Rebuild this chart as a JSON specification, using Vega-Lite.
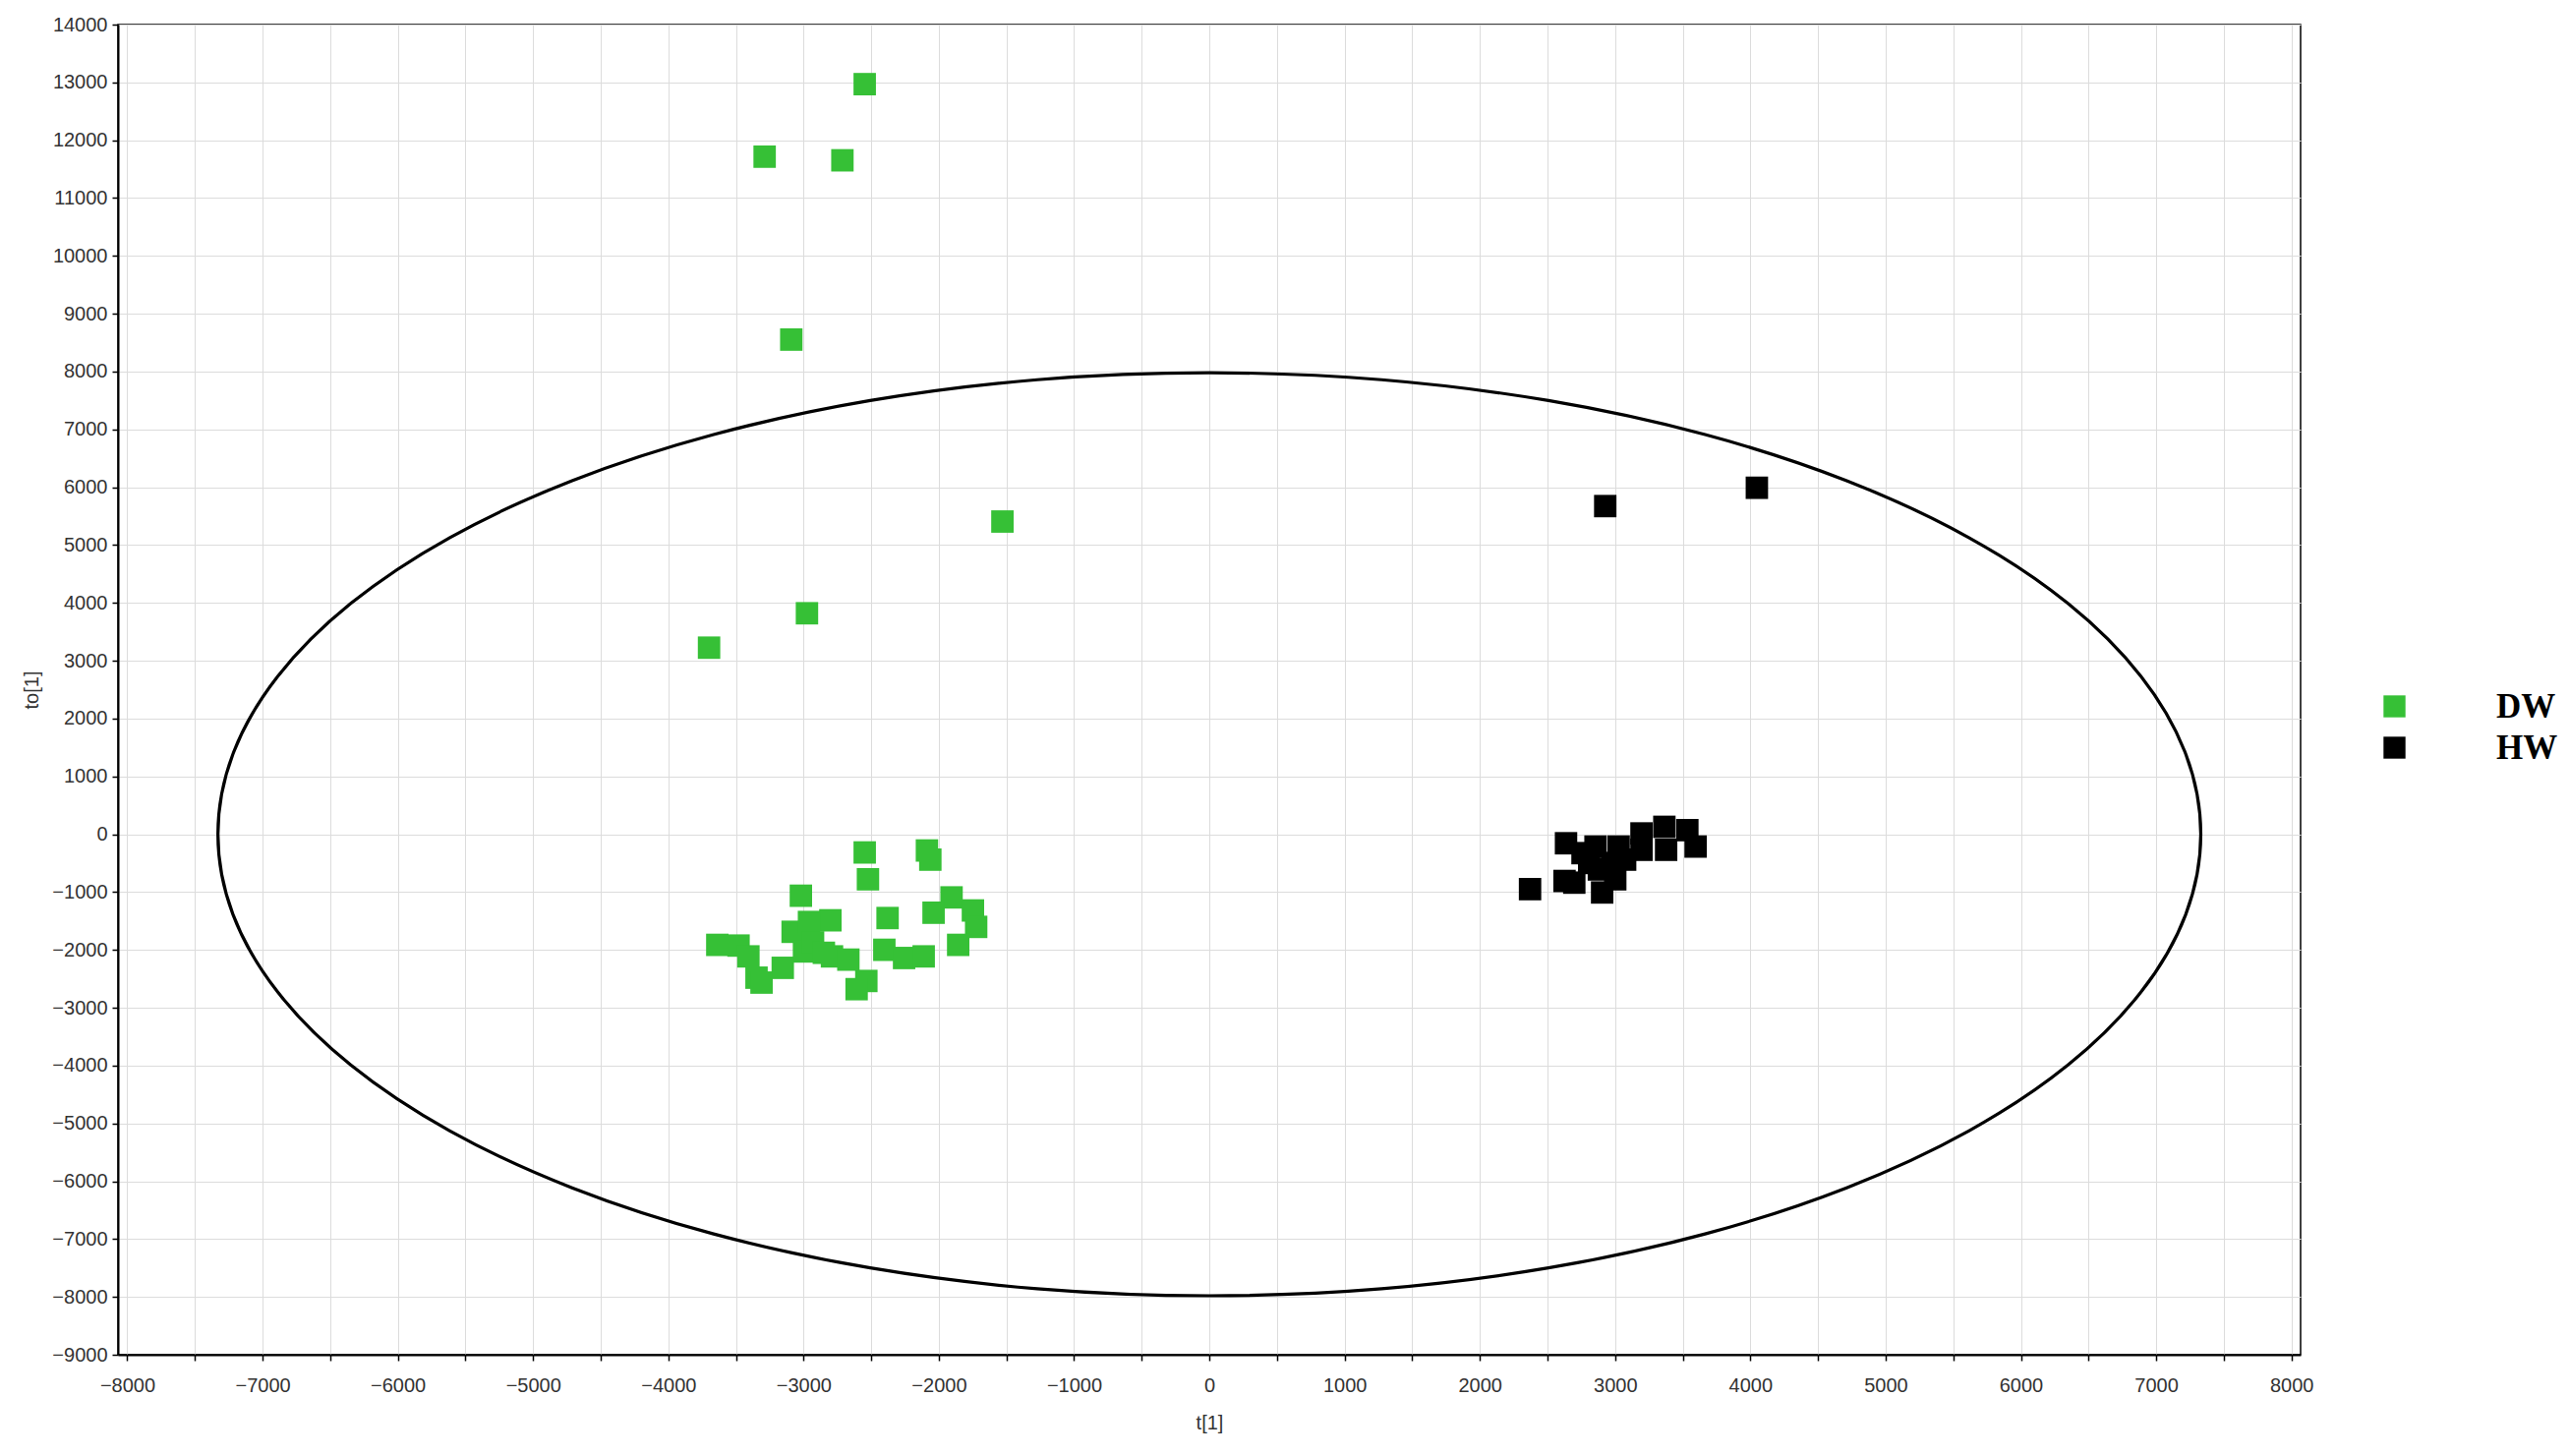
{
  "$schema": "https://vega.github.io/schema/vega-lite/v6.json",
  "autosize": {"type": "none"},
  "padding": {"left": 120, "top": 25, "right": 273, "bottom": 103},
  "width": 2220,
  "height": 1353,
  "background": "white",
  "datasets": {
    "scores": [
      {"group": "DW", "t": -2548, "to": 12970},
      {"group": "DW", "t": -3288, "to": 11716},
      {"group": "DW", "t": -2713, "to": 11653},
      {"group": "DW", "t": -3091, "to": 8553},
      {"group": "DW", "t": -1530, "to": 5407},
      {"group": "DW", "t": -2975, "to": 3821},
      {"group": "DW", "t": -3699, "to": 3226},
      {"group": "DW", "t": -2548, "to": -315},
      {"group": "DW", "t": -2524, "to": -779},
      {"group": "DW", "t": -2088, "to": -281},
      {"group": "DW", "t": -2063, "to": -439},
      {"group": "DW", "t": -3020, "to": -1063},
      {"group": "DW", "t": -1906, "to": -1092},
      {"group": "DW", "t": -2039, "to": -1357},
      {"group": "DW", "t": -1748, "to": -1318},
      {"group": "DW", "t": -2379, "to": -1449},
      {"group": "DW", "t": -2802, "to": -1488},
      {"group": "DW", "t": -1724, "to": -1602},
      {"group": "DW", "t": -3081, "to": -1687},
      {"group": "DW", "t": -2960, "to": -1517},
      {"group": "DW", "t": -2997, "to": -2027},
      {"group": "DW", "t": -3638, "to": -1913},
      {"group": "DW", "t": -3481, "to": -1925},
      {"group": "DW", "t": -3408, "to": -2112},
      {"group": "DW", "t": -3154, "to": -2310},
      {"group": "DW", "t": -3348, "to": -2480},
      {"group": "DW", "t": -3311, "to": -2565},
      {"group": "DW", "t": -2790, "to": -2112},
      {"group": "DW", "t": -2669, "to": -2168},
      {"group": "DW", "t": -2403, "to": -1998},
      {"group": "DW", "t": -2257, "to": -2140},
      {"group": "DW", "t": -2112, "to": -2112},
      {"group": "DW", "t": -1857, "to": -1913},
      {"group": "DW", "t": -2536, "to": -2537},
      {"group": "DW", "t": -2608, "to": -2679},
      {"group": "DW", "t": -2930, "to": -1870},
      {"group": "DW", "t": -2850, "to": -2050},
      {"group": "HW", "t": 2927, "to": 5674},
      {"group": "HW", "t": 4048, "to": 5991},
      {"group": "HW", "t": 2371, "to": -949},
      {"group": "HW", "t": 2637, "to": -156},
      {"group": "HW", "t": 2626, "to": -808},
      {"group": "HW", "t": 2698, "to": -837},
      {"group": "HW", "t": 2759, "to": -327},
      {"group": "HW", "t": 2808, "to": -497},
      {"group": "HW", "t": 2880, "to": -609},
      {"group": "HW", "t": 2904, "to": -1007},
      {"group": "HW", "t": 2977, "to": -497},
      {"group": "HW", "t": 3026, "to": -213},
      {"group": "HW", "t": 3074, "to": -439},
      {"group": "HW", "t": 3195, "to": 14},
      {"group": "HW", "t": 3195, "to": -269},
      {"group": "HW", "t": 3364, "to": 128},
      {"group": "HW", "t": 3377, "to": -269},
      {"group": "HW", "t": 3534, "to": 71},
      {"group": "HW", "t": 3595, "to": -213},
      {"group": "HW", "t": 3001, "to": -779},
      {"group": "HW", "t": 2855, "to": -213}
    ],
    "ellipse": [
      {"i": 0, "t": 7330, "to": 0},
      {"i": 1, "t": 7219, "to": 1386},
      {"i": 2, "t": 6888, "to": 2729},
      {"i": 3, "t": 6348, "to": 3990},
      {"i": 4, "t": 5615, "to": 5130},
      {"i": 5, "t": 4712, "to": 6113},
      {"i": 6, "t": 3665, "to": 6911},
      {"i": 7, "t": 2507, "to": 7499},
      {"i": 8, "t": 1273, "to": 7859},
      {"i": 9, "t": 0, "to": 7980},
      {"i": 10, "t": -1273, "to": 7859},
      {"i": 11, "t": -2507, "to": 7499},
      {"i": 12, "t": -3665, "to": 6911},
      {"i": 13, "t": -4712, "to": 6113},
      {"i": 14, "t": -5615, "to": 5130},
      {"i": 15, "t": -6348, "to": 3990},
      {"i": 16, "t": -6888, "to": 2729},
      {"i": 17, "t": -7219, "to": 1386},
      {"i": 18, "t": -7330, "to": 0},
      {"i": 19, "t": -7219, "to": -1386},
      {"i": 20, "t": -6888, "to": -2729},
      {"i": 21, "t": -6348, "to": -3990},
      {"i": 22, "t": -5615, "to": -5130},
      {"i": 23, "t": -4712, "to": -6113},
      {"i": 24, "t": -3665, "to": -6911},
      {"i": 25, "t": -2507, "to": -7499},
      {"i": 26, "t": -1273, "to": -7859},
      {"i": 27, "t": 0, "to": -7980},
      {"i": 28, "t": 1273, "to": -7859},
      {"i": 29, "t": 2507, "to": -7499},
      {"i": 30, "t": 3665, "to": -6911},
      {"i": 31, "t": 4712, "to": -6113},
      {"i": 32, "t": 5615, "to": -5130},
      {"i": 33, "t": 6348, "to": -3990},
      {"i": 34, "t": 6888, "to": -2729},
      {"i": 35, "t": 7219, "to": -1386}
    ]
  },
  "layer": [
    {
      "data": {"name": "ellipse"},
      "mark": {"type": "line", "interpolate": "cardinal-closed", "color": "#000000", "strokeWidth": 3.2},
      "encoding": {
        "x": {
          "field": "t", "type": "quantitative",
          "scale": {"domain": [-8069, 8068], "nice": false, "zero": false},
          "axis": {
            "title": "t[1]",
            "values": [-8000,-7500,-7000,-6500,-6000,-5500,-5000,-4500,-4000,-3500,-3000,-2500,-2000,-1500,-1000,-500,0,500,1000,1500,2000,2500,3000,3500,4000,4500,5000,5500,6000,6500,7000,7500,8000],
            "format": "d",
            "labelExpr": "datum.value % 1000 === 0 ? datum.label : ''",
            "labelPadding": 15,
            "titlePadding": 18
          }
        },
        "y": {
          "field": "to", "type": "quantitative",
          "scale": {"domain": [-9000, 14000], "nice": false, "zero": false},
          "axis": {
            "title": "to[1]",
            "values": [-9000,-8500,-8000,-7500,-7000,-6500,-6000,-5500,-5000,-4500,-4000,-3500,-3000,-2500,-2000,-1500,-1000,-500,0,500,1000,1500,2000,2500,3000,3500,4000,4500,5000,5500,6000,6500,7000,7500,8000,8500,9000,9500,10000,10500,11000,11500,12000,12500,13000,13500,14000],
            "format": "d",
            "labelExpr": "datum.value % 1000 === 0 ? datum.label : ''",
            "labelPadding": 5,
            "titlePadding": 10
          }
        },
        "order": {"field": "i", "type": "quantitative"}
      }
    },
    {
      "mark": {"type": "rule", "color": "#222222", "strokeWidth": 1.6},
      "encoding": {"x": {"datum": 0}}
    },
    {
      "mark": {"type": "rule", "color": "#222222", "strokeWidth": 1.6},
      "encoding": {"y": {"datum": 0}}
    },
    {
      "data": {"name": "scores"},
      "mark": {"type": "square", "size": 520, "opacity": 1, "filled": true},
      "encoding": {
        "x": {"field": "t", "type": "quantitative"},
        "y": {"field": "to", "type": "quantitative"},
        "color": {
          "field": "group", "type": "nominal",
          "scale": {"domain": ["DW", "HW"], "range": ["#36c036", "#000000"]},
          "legend": {
            "orient": "none",
            "legendX": 2298,
            "legendY": 676,
            "title": null,
            "symbolType": "square",
            "symbolSize": 500,
            "symbolStrokeWidth": 0,
            "symbolOpacity": 1,
            "labelFont": "Liberation Serif",
            "labelFontSize": 35,
            "labelFontWeight": "bold",
            "labelColor": "#000000",
            "labelOffset": 86,
            "rowPadding": 6,
            "padding": 0
          }
        }
      }
    }
  ],
  "config": {
    "view": {"stroke": "#000000", "strokeWidth": 1.5},
    "axis": {
      "labelFont": "Liberation Sans",
      "labelFontSize": 20,
      "labelColor": "#333333",
      "labelOverlap": false,
      "labelFlush": false,
      "labelBound": false,
      "titleFont": "Liberation Sans",
      "titleFontSize": 20,
      "titleFontWeight": "normal",
      "titleColor": "#333333",
      "domainColor": "#000000",
      "domainWidth": 2,
      "tickColor": "#000000",
      "tickWidth": 1.5,
      "tickSize": 6,
      "gridColor": "#dcdcdc",
      "gridWidth": 1
    }
  }
}
